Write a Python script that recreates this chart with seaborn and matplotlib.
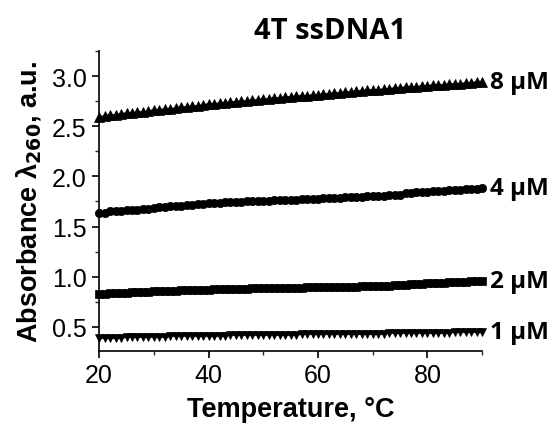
import matplotlib
matplotlib.use("Agg")
import matplotlib.pyplot as plt
from matplotlib.ticker import MultipleLocator
import pandas as pd
import seaborn as sns

# temperature axis, one reading per degree
temps = list(range(20, 91))

abs_8uM = [
    2.59, 2.60, 2.61, 2.61, 2.62, 2.63, 2.63, 2.64, 2.64, 2.65,
    2.66, 2.66, 2.67, 2.67, 2.68, 2.69, 2.69, 2.70, 2.70, 2.71,
    2.72, 2.72, 2.73, 2.73, 2.74, 2.74, 2.75, 2.75, 2.76, 2.76,
    2.77, 2.77, 2.78, 2.78, 2.79, 2.79, 2.80, 2.80, 2.80, 2.81,
    2.81, 2.82, 2.82, 2.83, 2.83, 2.84, 2.84, 2.85, 2.85, 2.86,
    2.86, 2.86, 2.87, 2.87, 2.88, 2.88, 2.89, 2.89, 2.89, 2.90,
    2.90, 2.91, 2.91, 2.91, 2.92, 2.92, 2.92, 2.93, 2.93, 2.94, 2.94,
]

abs_4uM = [
    1.64, 1.64, 1.65, 1.65, 1.65, 1.66, 1.66, 1.66, 1.67, 1.67,
    1.68, 1.69, 1.69, 1.70, 1.70, 1.70, 1.71, 1.71, 1.72, 1.72,
    1.73, 1.73, 1.73, 1.74, 1.74, 1.74, 1.74, 1.75, 1.75, 1.75,
    1.75, 1.75, 1.76, 1.76, 1.76, 1.76, 1.76, 1.77, 1.77, 1.77,
    1.77, 1.78, 1.78, 1.78, 1.78, 1.79, 1.79, 1.79, 1.79, 1.80,
    1.80, 1.80, 1.80, 1.81, 1.81, 1.81, 1.83, 1.83, 1.84, 1.84,
    1.84, 1.85, 1.85, 1.85, 1.86, 1.86, 1.86, 1.87, 1.87, 1.87, 1.88,
]

abs_2uM = [
    0.83, 0.83, 0.84, 0.84, 0.84, 0.84, 0.85, 0.85, 0.85, 0.85,
    0.86, 0.86, 0.86, 0.86, 0.86, 0.87, 0.87, 0.87, 0.87, 0.87,
    0.87, 0.88, 0.88, 0.88, 0.88, 0.88, 0.88, 0.88, 0.89, 0.89,
    0.89, 0.89, 0.89, 0.89, 0.89, 0.89, 0.89, 0.89, 0.90, 0.90,
    0.90, 0.90, 0.90, 0.90, 0.90, 0.90, 0.90, 0.90, 0.91, 0.91,
    0.91, 0.91, 0.91, 0.91, 0.92, 0.92, 0.92, 0.93, 0.93, 0.93,
    0.94, 0.94, 0.94, 0.94, 0.95, 0.95, 0.95, 0.95, 0.96, 0.96, 0.96,
]

abs_1uM = [
    0.39, 0.39, 0.39, 0.39, 0.39, 0.40, 0.40, 0.40, 0.40, 0.40,
    0.40, 0.40, 0.40, 0.41, 0.41, 0.41, 0.41, 0.41, 0.41, 0.41,
    0.41, 0.41, 0.41, 0.41, 0.42, 0.42, 0.42, 0.42, 0.42, 0.42,
    0.42, 0.42, 0.42, 0.42, 0.42, 0.42, 0.42, 0.43, 0.43, 0.43,
    0.43, 0.43, 0.43, 0.43, 0.43, 0.43, 0.43, 0.43, 0.43, 0.43,
    0.43, 0.43, 0.43, 0.44, 0.44, 0.44, 0.44, 0.44, 0.44, 0.44,
    0.44, 0.44, 0.44, 0.44, 0.44, 0.45, 0.45, 0.45, 0.45, 0.45, 0.45,
]

series_labels = ["8 µM", "4 µM", "2 µM", "1 µM"]
series_markers = ["^", "o", "s", "v"]
marker_sizes = [6.5, 6.0, 5.5, 6.0]

df = pd.DataFrame({
    "T": temps * 4,
    "A": abs_8uM + abs_4uM + abs_2uM + abs_1uM,
    "conc": sum([[lab] * len(temps) for lab in series_labels], []),
})

sns.set_style("ticks")
plt.rcParams["font.family"] = ["Liberation Sans", "DejaVu Sans"]
plt.rcParams["text.color"] = "black"
plt.rcParams["axes.labelcolor"] = "black"
plt.rcParams["mathtext.default"] = "regular"

fig = plt.figure(figsize=(5.51, 4.27), dpi=100)
ax = fig.add_axes([0.18, 0.176, 0.695, 0.702])

for lab, mk, ms in zip(series_labels, series_markers, marker_sizes):
    sub = df[df["conc"] == lab]
    sns.lineplot(data=sub, x="T", y="A", ax=ax, color="black", lw=1.5,
                 marker=mk, markersize=ms, markeredgecolor="black",
                 markeredgewidth=0.5, clip_on=False)
    ax.text(sub["T"].iloc[-1] + 1.5, sub["A"].iloc[-1], lab,
            fontsize=17.5, fontweight="bold", family=["Open Sans", "DejaVu Sans"],
            va="center", ha="left", clip_on=False, color="black")

ax.set_xlim(20, 90)
ax.set_ylim(0.26, 3.25)
ax.xaxis.set_major_locator(MultipleLocator(20))
ax.xaxis.set_minor_locator(MultipleLocator(10))
ax.yaxis.set_major_locator(MultipleLocator(0.5))
ax.yaxis.set_minor_locator(MultipleLocator(0.25))
ax.yaxis.set_major_formatter(matplotlib.ticker.FormatStrFormatter("%.1f"))

ax.tick_params(which="major", direction="out", length=5, width=1.2,
               labelsize=18, colors="black", pad=4)
ax.tick_params(which="minor", direction="out", length=3, width=1.0)
for s in ["left", "bottom"]:
    ax.spines[s].set_linewidth(1.2)
    ax.spines[s].set_color("black")
sns.despine(ax=ax)

ax.set_xlabel("Temperature, °C", fontsize=19.5, fontweight="bold", labelpad=6)
ax.set_ylabel(r"Absorbance $\lambda_{\mathbf{260}}$, a.u.", fontsize=19.5,
              fontweight="bold", labelpad=6)

fig.text(0.60, 0.927, "4T ssDNA1", fontsize=21, fontweight="bold",
         family=["Open Sans", "DejaVu Sans"], ha="center", va="center")

fig.savefig("out.png", dpi=100)
